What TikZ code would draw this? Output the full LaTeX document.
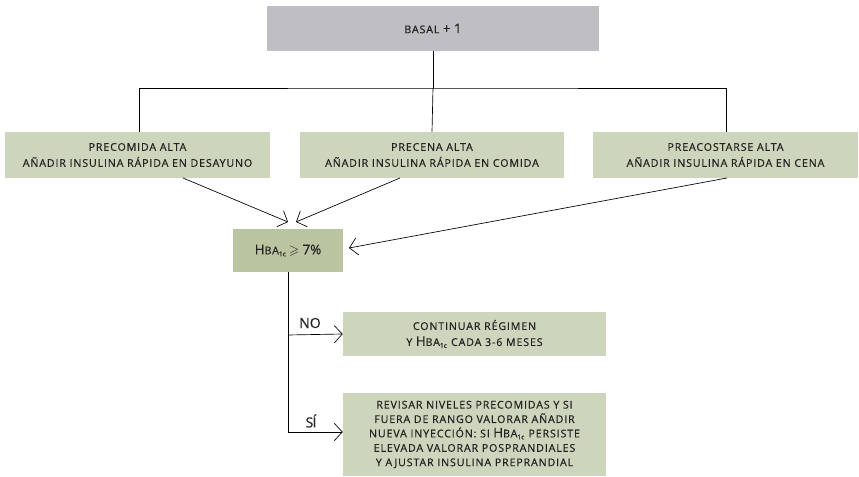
\documentclass[tikz,border=0pt]{standalone}
\usepackage{amssymb}
\usepackage{fontspec}
\setmainfont{Open Sans}
\newfontfamily\capsfont[LetterSpace=8,FakeBold=0.6]{Open Sans}
\newfontfamily\bigfont[FakeBold=0.4]{Open Sans}
\usetikzlibrary{arrows.meta}
\definecolor{boxgray}{RGB}{190,190,195}
\definecolor{boxsage}{RGB}{206,213,189}
\definecolor{boxolive}{RGB}{186,196,160}
\definecolor{ink}{RGB}{35,35,35}
\newcommand{\sctext}[1]{{\capsfont\fontsize{8}{12}\selectfont #1}}
\newcommand{\hba}{{\bigfont\fontsize{10}{12}\selectfont H}{\capsfont\fontsize{8}{12}\selectfont BA}\textsubscript{\bigfont\fontsize{5}{5}\selectfont 1c}}
\tikzset{
  x=0.75pt, y=-0.75pt,
  stepbox/.style={draw=none, inner sep=0pt, align=center, text=ink},
  link/.style={draw=black, line width=0.5pt},
  arr/.style={link, -{Straight Barb[length=6pt,width=13pt,line width=0.5pt]}},
  lbl/.style={text=ink, font=\bigfont\fontsize{10.5}{12}\selectfont, inner sep=0pt}
}
\begin{document}
\begin{tikzpicture}
\useasboundingbox (0,0) rectangle (859,477);
% top box
\node[stepbox, fill=boxgray, minimum width=332*0.75pt, minimum height=45*0.75pt] (basal) at (433,28.5)
  {\sctext{BASAL} {\bigfont\fontsize{10}{12}\selectfont + 1}};
% three cases
\node[stepbox, fill=boxsage, minimum width=265*0.75pt, minimum height=46*0.75pt] (b1) at (137.5,155)
  {\sctext{PRECOMIDA ALTA}\\\sctext{AÑADIR INSULINA RÁPIDA EN DESAYUNO}};
\node[stepbox, fill=boxsage, minimum width=264*0.75pt, minimum height=46*0.75pt] (b2) at (432,155)
  {\sctext{PRECENA ALTA}\\\sctext{AÑADIR INSULINA RÁPIDA EN COMIDA}};
\node[stepbox, fill=boxsage, minimum width=265*0.75pt, minimum height=46*0.75pt] (b3) at (725.5,155)
  {\sctext{PREACOSTARSE ALTA}\\\sctext{AÑADIR INSULINA RÁPIDA EN CENA}};
% decision
\node[stepbox, fill=boxolive, minimum width=110*0.75pt, minimum height=43*0.75pt] (hb) at (288,250.5)
  {\hba\,{\bigfont\fontsize{10}{12}\selectfont $\geqslant$ 7\%}};
% outcomes
\node[stepbox, fill=boxsage, minimum width=263*0.75pt, minimum height=44*0.75pt] (no) at (474.5,334)
  {\sctext{CONTINUAR RÉGIMEN}\\\sctext{Y} \hba\ \sctext{CADA 3-6 MESES}};
\node[stepbox, fill=boxsage, minimum width=263*0.75pt, minimum height=83*0.75pt] (si) at (474.5,434.5)
  {\sctext{REVISAR NIVELES PRECOMIDAS Y SI}\\[-1.2pt]
   \sctext{FUERA DE RANGO VALORAR AÑADIR}\\[-1.2pt]
   \sctext{NUEVA INYECCIÓN: SI} \hba\ \sctext{PERSISTE}\\[-1.2pt]
   \sctext{ELEVADA VALORAR POSPRANDIALES}\\[-1.2pt]
   \sctext{Y AJUSTAR INSULINA PREPRANDIAL}};
% tree from the top box
\coordinate (fork) at (433,88);
\draw[link] (basal.south) -- (fork);
\draw[link] (b1.north -| 139,0) |- (fork) -| (b3.north -| 726,0);
\draw[link] (fork) -- (b2.north);
% arrows into the decision
\coordinate (t1) at (288,222);
\coordinate (t2) at (296,222);
\coordinate (t3) at (349,248);
\draw[arr] (183,178) -- (t1);
\draw[arr] (400,178) -- (t2);
\draw[arr] (727,178) -- (t3);
% branches
\coordinate (yes) at (288,432);
\draw[link] (hb.south) -- (yes);
\draw[arr] (288,335) -- (no.west);
\draw[arr] (yes) -- (si.west |- yes);
\node[lbl] at (310,323) {NO};
\node[lbl] at (311,421) {S\kern-0.6ptÍ};
\end{tikzpicture}
\end{document}
